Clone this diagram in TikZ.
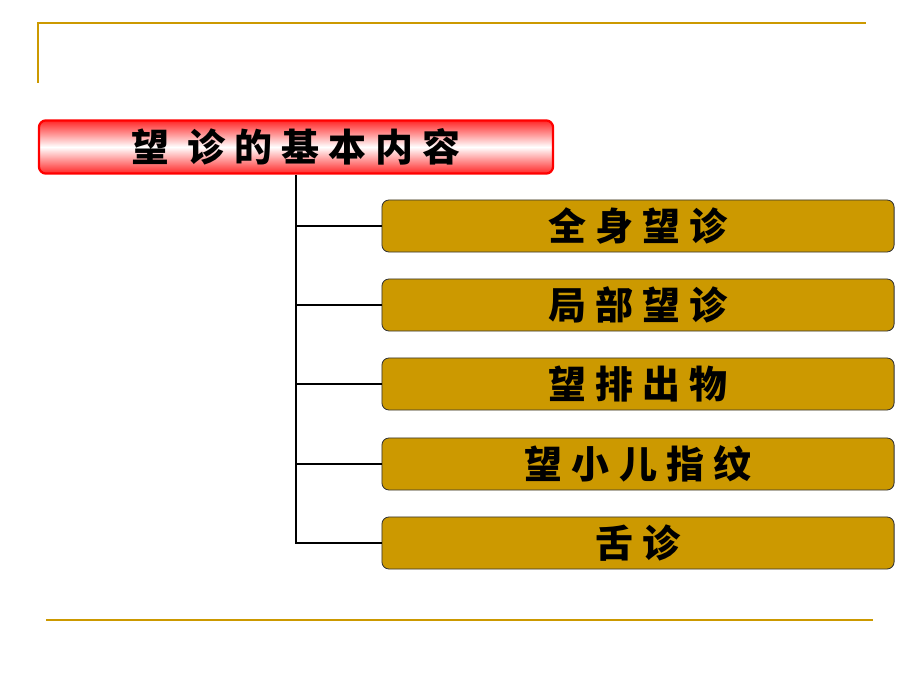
\documentclass[tikz,border=0pt]{standalone}
\usepackage{fontspec}
\newfontfamily\cjk[LetterSpace=24,BoldFont={Noto Sans CJK SC Black}]{Noto Sans CJK SC}
\usepackage{tikz}
\usetikzlibrary{positioning,calc}

\definecolor{gold}{HTML}{CC9900}
\tikzset{
  titlebox/.style={draw=red,line width=1.6pt,rounded corners=5pt,top color=red!85,bottom color=red!85,middle color=white,minimum width=12.85cm,minimum height=1.33cm,font=\cjk\bfseries\fontsize{27}{27}\selectfont},
  itembox/.style={draw=black!80,line width=0.6pt,fill=gold,rounded corners=5pt,minimum width=12.8cm,minimum height=1.3cm,font=\cjk\bfseries\fontsize{27}{27}\selectfont},
  branch/.style={line width=1.3pt,black},
  rule/.style={line width=1.4pt,gold}
}

\begin{document}
\begin{tikzpicture}[x=0.025cm,y=-0.025cm]
\useasboundingbox (0,0) rectangle (920,690);

% Frame lines
\draw[rule] (38,83) -- (38,23) -- (866,23);
\draw[rule] (46,620) -- (873,620);

% Title
\node[titlebox] (title) at (296,147) {望 诊的基本内容};

% Items
\foreach \t/\y [count=\i] in {全身望诊/226,局部望诊/305,望排出物/384,望小儿指纹/464,舌诊/543}
  \node[itembox] (item\i) at (638,\y) {\t};

% Branches
\draw[branch] (title.south) |- (item5.west);
\foreach \i in {1,...,4}
  \draw[branch] (item\i.west -| title.south) -- (item\i.west);
\end{tikzpicture}
\end{document}
